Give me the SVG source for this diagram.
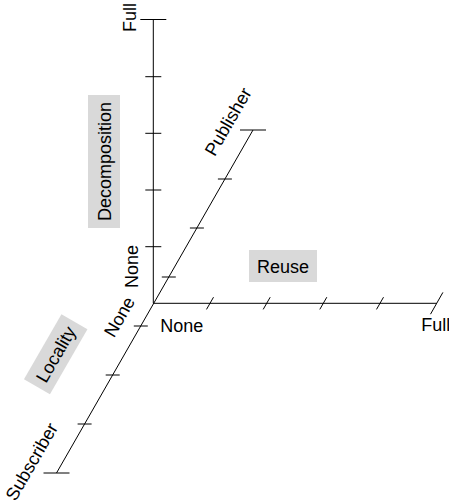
<svg xmlns="http://www.w3.org/2000/svg" width="449" height="503" viewBox="0 0 449 503">
<style>
.ax{stroke:#000;stroke-width:1;fill:none}
.t{font-family:"Liberation Sans",Arial,sans-serif;font-size:18px;fill:#000}
.box{fill:#d9d9d9;stroke:none}
</style>
<rect width="449" height="503" fill="#fff"/>
<g id="connectors">
  <!-- vertical axis: Decomposition -->
  <line class="ax" x1="153.3" y1="303.3" x2="153.3" y2="19.5"/>
  <line class="ax" x1="140.3" y1="19.5" x2="166.3" y2="19.5"/>
  <line class="ax" x1="145.3" y1="76.7" x2="161.3" y2="76.7"/>
  <line class="ax" x1="145.3" y1="133.3" x2="161.3" y2="133.3"/>
  <line class="ax" x1="145.3" y1="190" x2="161.3" y2="190"/>
  <line class="ax" x1="145.3" y1="246.7" x2="161.3" y2="246.7"/>
  <!-- horizontal axis: Reuse -->
  <line class="ax" x1="153.3" y1="303.3" x2="436.7" y2="303.3"/>
  <line class="ax" x1="206.5" y1="309.4" x2="213.5" y2="297.2"/>
  <line class="ax" x1="263.2" y1="309.4" x2="270.2" y2="297.2"/>
  <line class="ax" x1="319.8" y1="309.4" x2="326.8" y2="297.2"/>
  <line class="ax" x1="376.5" y1="309.4" x2="383.5" y2="297.2"/>
  <line class="ax" x1="430.5" y1="314.2" x2="442.9" y2="292.4"/>
  <!-- diagonal axis: Locality -->
  <line class="ax" x1="56.5" y1="473" x2="253" y2="130"/>
  <line class="ax" x1="43.5" y1="473" x2="69.5" y2="473"/>
  <line class="ax" x1="240" y1="130" x2="266" y2="130"/>
  <line class="ax" x1="77.6" y1="424" x2="91.6" y2="424"/>
  <line class="ax" x1="105.7" y1="375" x2="119.7" y2="375"/>
  <line class="ax" x1="133.8" y1="326" x2="147.8" y2="326"/>
  <line class="ax" x1="161.8" y1="277" x2="175.8" y2="277"/>
  <line class="ax" x1="189.9" y1="228" x2="203.9" y2="228"/>
  <line class="ax" x1="217.9" y1="179" x2="231.9" y2="179"/>
</g>
<g id="decomposition">
  <rect class="box" x="88" y="95" width="32" height="133"/>
  <text class="t" text-anchor="middle" transform="translate(110.5,161.5) rotate(-90)">Decomposition</text>
</g>
<g id="reuse">
  <rect class="box" x="249" y="250" width="68" height="32"/>
  <text class="t" text-anchor="middle" x="283" y="272.5">Reuse</text>
</g>
<g id="locality">
  <rect class="box" x="-37.5" y="-15" width="75" height="30" transform="translate(55.7,354.3) rotate(-60)"/>
  <text class="t" text-anchor="middle" transform="translate(61.3,357.5) rotate(-60)">Locality</text>
</g>
<g id="labels">
  <text class="t" text-anchor="middle" transform="translate(136.4,17.5) rotate(-90)">Full</text>
  <text class="t" text-anchor="middle" transform="translate(137.5,266.5) rotate(-90)">None</text>
  <text class="t" text-anchor="middle" transform="translate(124.8,319.9) rotate(-60)">None</text>
  <text class="t" x="160.3" y="331.5">None</text>
  <text class="t" x="421.3" y="331">Full</text>
  <text class="t" text-anchor="middle" transform="translate(233.6,124.7) rotate(-60)">Publisher</text>
  <text class="t" text-anchor="middle" transform="translate(37.1,464.7) rotate(-60)">Subscriber</text>
</g>
</svg>
